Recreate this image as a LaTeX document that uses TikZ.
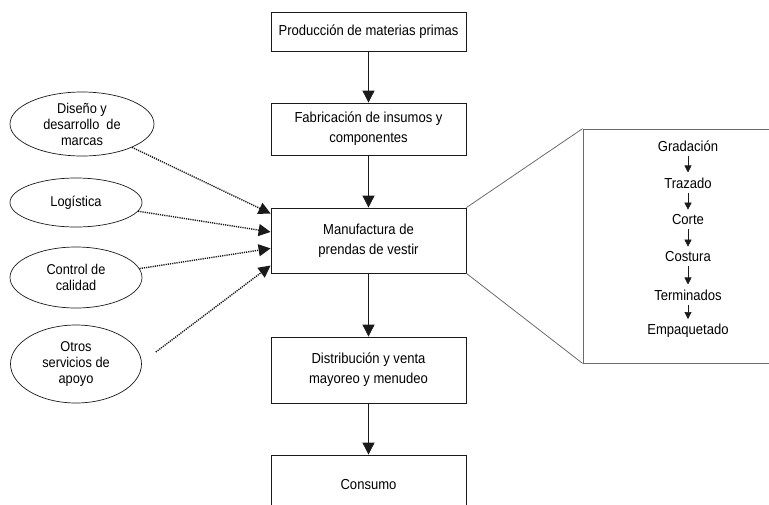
\documentclass[tikz,border=0pt]{standalone}
\usepackage{fontspec}
\setmainfont{Liberation Sans}[FakeStretch=0.9]
\usetikzlibrary{arrows.meta,positioning,shapes.geometric,calc}
\definecolor{Ink}{HTML}{1A1A1A}
\definecolor{Frame}{HTML}{6B6B6B}

\begin{document}
\begin{tikzpicture}[x=1pt,y=-1pt,
  stage/.style={rectangle,draw=Ink,line width=0.8pt,minimum width=195pt,align=center,font=\fontsize{14.5}{20}\selectfont},
  support/.style={ellipse,draw=Ink,line width=0.7pt,inner sep=0pt,align=center,font=\fontsize{14.2}{16}\selectfont},
  task/.style={inner sep=1pt,font=\fontsize{14.5}{16}\selectfont},
  flow/.style={-{Triangle[length=12pt,width=12pt]},draw=Ink,line width=0.8pt},
  help/.style={-{Triangle[length=12pt,width=12pt]},draw=Ink,line width=1.4pt,dash pattern=on 1.2pt off 1pt},
  sub/.style={-{Triangle[length=7pt,width=7pt]},draw=Ink,line width=0.6pt,shorten >=4pt,shorten <=3pt},
  zoomline/.style={draw=Frame,line width=0.8pt}
]
\clip (0,0) rectangle (769,504);
\node[stage,minimum height=39pt] (p1) at (368.5,31.5) {Producción de materias primas};
\node[stage,minimum height=52pt] (p2) at (368.5,129) {Fabricación de insumos y\\componentes};
\node[stage,minimum height=65pt] (p3) at (368.5,240.5) {Manufactura de\\prendas de vestir};
\node[stage,minimum height=66pt] (p4) at (368.5,370) {Distribución y venta\\mayoreo y menudeo};
\node[stage,minimum height=60pt] (p5) at (368.5,485) {Consumo};
\draw[flow] (p1)--(p2);
\draw[flow] (p2)--(p3);
\draw[flow] (p3)--(p4);
\draw[flow] (p4)--(p5);

\node[support,minimum width=144pt,minimum height=64pt] (dis) at (82,124) {Diseño y\\desarrollo\ \ de\\marcas};
\node[support,minimum width=132pt,minimum height=49pt] (log) at (76,202.5) {Logística};
\node[support,minimum width=132pt,minimum height=61pt] (cal) at (76,277.5) {Control de\\calidad};
\node[support,minimum width=131pt,minimum height=78pt] (otr) at (76,364) {Otros\\servicios de\\apoyo};
\coordinate (in1) at ($(p3.north west)!0.09!(p3.south west)$);
\coordinate (in2) at ($(p3.north west)!0.37!(p3.south west)$);
\coordinate (in3) at ($(p3.north west)!0.62!(p3.south west)$);
\coordinate (in4) at ($(p3.north west)!0.88!(p3.south west)$);
\draw[help] (dis.-25)--(in1);
\draw[help] (log.-8)--(in2);
\draw[help] (cal.8)--(in3);
\draw[help] ($(otr.east)+(14,-12)$)--(in4);

\node[rectangle,draw=Frame,line width=0.8pt,minimum width=217pt,minimum height=234pt] (det) at (691.5,246) {};
\draw[zoomline] (p3.north east)--(det.north west);
\draw[zoomline] (p3.south east)--(det.south west);
\node[task] (g) at (688,146) {Gradación};
\node[task] (t) at (688,183) {Trazado};
\node[task] (co) at (688,220) {Corte};
\node[task] (cs) at (688,257) {Costura};
\node[task] (te) at (688,295) {Terminados};
\node[task] (em) at (688,331) {Empaquetado};
\draw[sub] (g)--(t);
\draw[sub] (t)--(co);
\draw[sub] (co)--(cs);
\draw[sub] (cs)--(te);
\draw[sub] (te)--(em);
\end{tikzpicture}
\end{document}
